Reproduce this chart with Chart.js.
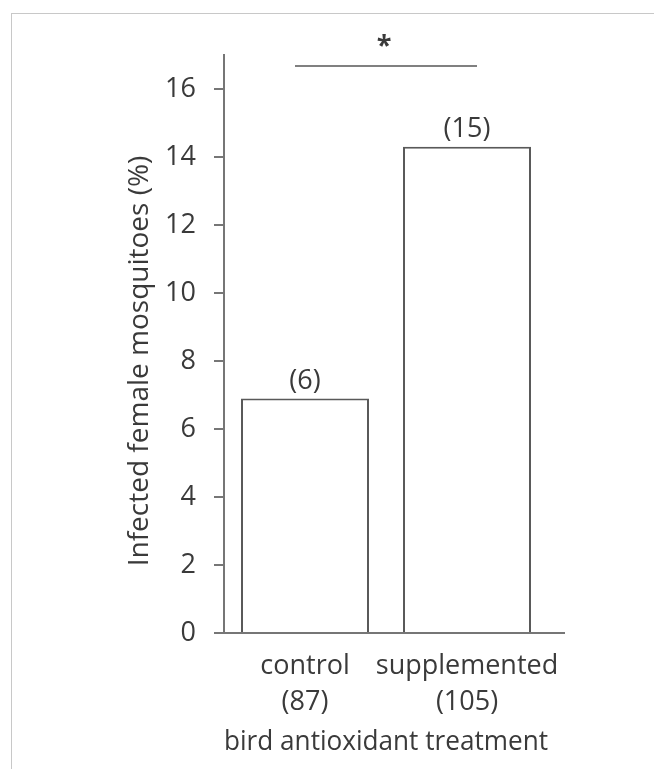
<!DOCTYPE html>
<html>
<head>
<meta charset="utf-8">
<script src="https://cdn.jsdelivr.net/npm/chart.js@4.4.1/dist/chart.umd.min.js"></script>
<style>
  body { margin: 0; background: #fff; overflow: hidden; }
  #wrap { position: relative; width: 654px; height: 769px; }
  #frame { position: absolute; left: 11px; top: 13px; width: 700px; height: 800px; border: 1px solid #c8c8c8; }
  canvas { position: absolute; left: 0; top: 0; }
</style>
</head>
<body>
<div id="wrap">
  <div id="frame"></div>
  <canvas id="myChart" width="654" height="769"></canvas>
</div>
<script>
// data
const categories = [['control', '(87)'], ['supplemented', '(105)']];
const infectedPct = [6.9, 14.3];
const infectedCounts = ['(6)', '(15)'];
const yTicks = [0, 2, 4, 6, 8, 10, 12, 14, 16];
const yTitle = 'Infected female mosquitoes (%)';
const sigLabel = '*';

const textColor = '#3a3a3a';
const axisColor = '#767676';
const fontFam = "'Open Sans', sans-serif";

// extra drawing: y title, x axis line, counts above bars, significance bar
const extras = {
  id: 'extras',
  afterDatasetsDraw(chart) {
    const ctx = chart.ctx;
    const area = chart.chartArea;
    const yScale = chart.scales.y;
    const bars = chart.getDatasetMeta(0).data;
    ctx.save();
    // y title, centred a bit below the axis middle like the original
    ctx.save();
    ctx.translate(140, yScale.getPixelForValue(8.0));
    ctx.rotate(-Math.PI / 2);
    ctx.fillStyle = textColor;
    ctx.font = '28px ' + fontFam;
    ctx.textAlign = 'center';
    ctx.textBaseline = 'middle';
    ctx.fillText(yTitle, 0, 0);
    ctx.restore();

    // x axis line
    ctx.strokeStyle = axisColor;
    ctx.lineWidth = 2;
    ctx.beginPath();
    ctx.moveTo(area.left - 10, area.bottom);
    ctx.lineTo(area.right + 17, area.bottom);
    ctx.stroke();

    // counts above bars
    ctx.fillStyle = textColor;
    ctx.font = '27px ' + fontFam;
    ctx.textAlign = 'center';
    ctx.textBaseline = 'middle';
    bars.forEach((bar, i) => {
      ctx.fillText(infectedCounts[i], bar.x, bar.y - 17);
    });

    // significance
    const yLine = yScale.getPixelForValue(16.68);
    ctx.strokeStyle = '#808080';
    ctx.lineWidth = 2;
    ctx.beginPath();
    ctx.moveTo(bars[0].x - 10, yLine);
    ctx.lineTo(bars[1].x + 10, yLine);
    ctx.stroke();
    ctx.textBaseline = 'alphabetic';
    ctx.font = 'bold 27px ' + fontFam;
    ctx.fillText(sigLabel, (bars[0].x + bars[1].x) / 2 - 2, yLine - 12);
    ctx.restore();
  }
};

const data = {
  labels: categories,
  datasets: [{
    data: infectedPct,
    backgroundColor: '#ffffff',
    borderColor: '#595959',
    borderWidth: 2,
    barPercentage: 0.79,
    categoryPercentage: 1.0
  }]
};

const config = {
  type: 'bar',
  data,
  options: {
    responsive: false,
    animation: false,
    layout: { padding: { left: 120, right: 106, top: 55, bottom: 0 } },
    plugins: { legend: { display: false }, tooltip: { enabled: false } },
    scales: {
      x: {
        grid: { display: false, drawTicks: false },
        border: { display: false },
        ticks: {
          color: textColor,
          font: { family: fontFam, size: 27, lineHeight: 36 / 27 },
          padding: 15,
          autoSkip: false,
          maxRotation: 0
        },
        title: {
          display: true,
          text: 'bird antioxidant treatment',
          color: textColor,
          font: { family: fontFam, size: 27 },
          padding: { top: 4, bottom: 10 }
        },
        afterFit(scale) { scale.height = 136; }
      },
      y: {
        min: 0,
        max: 17,
        grid: { drawOnChartArea: false, drawTicks: true, tickLength: 10, color: axisColor, lineWidth: 2 },
        border: { display: true, color: axisColor, width: 2 },
        ticks: {
          stepSize: 2,
          includeBounds: false,
          color: textColor,
          font: { family: fontFam, size: 27 },
          padding: 18,
          callback: v => yTicks.includes(v) ? v : ''
        },
        title: { display: false },
        afterFit(scale) { scale.width = 104; }
      }
    }
  },
  plugins: [extras]
};

const myChart = new Chart(document.getElementById('myChart'), config);
</script>
</body>
</html>
